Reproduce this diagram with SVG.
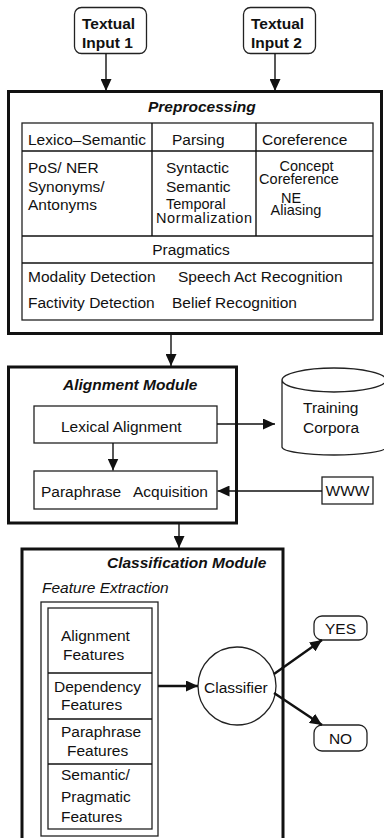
<svg xmlns="http://www.w3.org/2000/svg" width="384" height="838" viewBox="0 0 384 838">
<defs>
<style>
text{font-family:"Liberation Sans",Arial,Helvetica,sans-serif;font-size:15.5px;fill:#111}
.b{font-weight:bold}
.bi{font-weight:bold;font-style:italic}
.i{font-style:italic}
.m{text-anchor:middle}
.s{font-size:14.5px}
.thin{fill:#fff;stroke:#222;stroke-width:1.3}
.thick{fill:none;stroke:#111;stroke-width:3}
.ln{stroke:#111;stroke-width:1.4;fill:none}
.lnb{stroke:#111;stroke-width:2.4;fill:none}
</style>
<marker id="ah" viewBox="0 0 12 11" refX="12" refY="5.5" markerWidth="12" markerHeight="11" markerUnits="userSpaceOnUse" orient="auto">
<path d="M0,0 L12,5.5 L0,11 Z" fill="#111"/>
</marker>
</defs>

<g id="input1">
<rect x="74.5" y="7.5" width="72" height="46" rx="7" class="thin"/>
<text x="82" y="28.5" class="b">Textual</text>
<text x="82" y="48" class="b">Input 1</text>
</g>
<g id="input2">
<rect x="243.5" y="7.5" width="72" height="46" rx="7" class="thin"/>
<text x="251" y="28.5" class="b">Textual</text>
<text x="251" y="48" class="b">Input 2</text>
</g>

<g id="preprocessing">
<rect x="8.5" y="91.5" width="373" height="242" class="thick"/>
<text x="148" y="112" class="bi">Preprocessing</text>
<rect x="22" y="123" width="351" height="197" class="thin"/>
<line x1="22" y1="151" x2="373" y2="151" class="ln"/>
<line x1="22" y1="236" x2="373" y2="236" class="ln"/>
<line x1="22" y1="263" x2="373" y2="263" class="ln"/>
<line x1="152" y1="123" x2="152" y2="236" class="ln"/>
<line x1="256" y1="123" x2="256" y2="236" class="ln"/>
<text x="28" y="145">Lexico–Semantic</text>
<text x="172" y="145">Parsing</text>
<text x="262" y="145">Coreference</text>
<text x="28" y="173">PoS/ NER</text>
<text x="28" y="192">Synonyms/</text>
<text x="28" y="210">Antonyms</text>
<text x="166" y="173">Syntactic</text>
<text x="166" y="192">Semantic</text>
<text x="166" y="209" class="s">Temporal</text>
<text x="156" y="222.5" class="s" textLength="96">Normalization</text>
<text x="306.5" y="171" class="m s">Concept</text>
<text x="299" y="184" class="m s">Coreference</text>
<text x="291" y="202.5" class="m s">NE</text>
<text x="296" y="214.5" class="m s">Aliasing</text>
<text x="191" y="255" class="m">Pragmatics</text>
<text x="28" y="282">Modality Detection</text>
<text x="178" y="282">Speech Act Recognition</text>
<text x="28" y="308">Factivity Detection</text>
<text x="172" y="308">Belief Recognition</text>
</g>

<g id="alignment">
<rect x="8.5" y="367" width="228" height="156" class="thick"/>
<text x="63" y="390" class="bi">Alignment Module</text>
</g>
<g id="lexical">
<rect x="34" y="406" width="183" height="37" class="thin"/>
<text x="61" y="432">Lexical Alignment</text>
</g>
<g id="paraphrase">
<rect x="34" y="471" width="183" height="38" class="thin"/>
<text y="497"><tspan x="41">Paraphrase</tspan><tspan x="133">Acquisition</tspan></text>
</g>

<g id="corpora">
<path d="M282,380 A52,12 0 0 1 386,380 M282,380 A52,12 0 0 0 386,380 M282,380 L282,447 A52,8 0 0 0 386,447" class="thin" fill="none"/>
<text x="303" y="412.5">Training</text>
<text x="303" y="433">Corpora</text>
</g>

<g id="www">
<rect x="322" y="477" width="51" height="27" class="thin"/>
<text x="347.5" y="496" class="m">WWW</text>
</g>

<g id="classification">
<rect x="22" y="549" width="261" height="310" class="thick"/>
<text x="107" y="568" class="bi">Classification Module</text>
<text x="42" y="593" class="i">Feature Extraction</text>
</g>
<g id="features">
<rect x="41" y="602" width="117" height="234" class="thin"/>
<rect x="48" y="608" width="104" height="221" class="thin"/>
<line x1="48" y1="673" x2="152" y2="673" class="ln"/>
<line x1="48" y1="719" x2="152" y2="719" class="ln"/>
<line x1="48" y1="764" x2="152" y2="764" class="ln"/>
<text x="61" y="641">Alignment</text>
<text x="63" y="660">Features</text>
<text x="54" y="692">Dependency</text>
<text x="61" y="710">Features</text>
<text x="61" y="737">Paraphrase</text>
<text x="67" y="756">Features</text>
<text x="61" y="780">Semantic/</text>
<text x="61" y="802">Pragmatic</text>
<text x="61" y="822">Features</text>
</g>
<g id="classifier">
<circle cx="237" cy="686" r="39" class="thin"/>
<text x="204" y="693">Classifier</text>
</g>
<g id="yes">
<rect x="314" y="616" width="53" height="24" rx="8" class="thin"/>
<text x="340.5" y="634" class="m">YES</text>
</g>
<g id="no">
<rect x="314" y="725" width="53" height="26" rx="8" class="thin"/>
<text x="340.5" y="744" class="m">NO</text>
</g>

<g id="connectors">
<line x1="106" y1="53.5" x2="106" y2="91" class="ln" marker-end="url(#ah)"/>
<line x1="275" y1="53.5" x2="275" y2="91" class="ln" marker-end="url(#ah)"/>
<line x1="171" y1="334" x2="171" y2="366" class="ln" marker-end="url(#ah)"/>
<line x1="217" y1="424" x2="275" y2="424" class="ln" marker-end="url(#ah)"/>
<line x1="113" y1="443" x2="113" y2="470.5" class="ln" marker-end="url(#ah)"/>
<line x1="322" y1="491" x2="217.5" y2="491" class="ln" marker-end="url(#ah)"/>
<line x1="179" y1="523" x2="179" y2="548" class="ln" marker-end="url(#ah)"/>
<line x1="158" y1="686" x2="198" y2="686" class="lnb" marker-end="url(#ah)"/>
<line x1="274" y1="674" x2="322" y2="640" class="lnb" marker-end="url(#ah)"/>
<line x1="274" y1="693" x2="322" y2="725" class="lnb" marker-end="url(#ah)"/>
</g>
</svg>
